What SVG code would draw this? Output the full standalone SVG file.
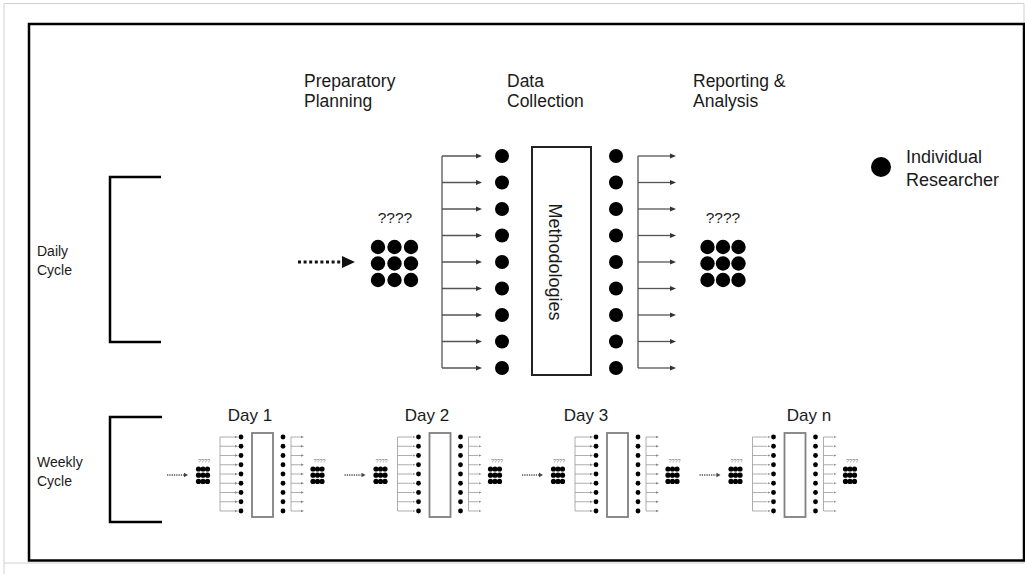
<svg xmlns="http://www.w3.org/2000/svg" xmlns:xlink="http://www.w3.org/1999/xlink" width="1025" height="574" viewBox="0 0 1025 574">
<style>
  .lbl { font-family: "Liberation Sans", Arial, sans-serif; fill: #1a1a1a; }
  .head { font-size: 17.5px; }
  .side { font-size: 14px; }
  .q { font-family: "Liberation Sans", Arial, sans-serif; fill: #222; font-size: 15.5px; text-anchor: middle; }
  .qs { font-family: "Liberation Sans", Arial, sans-serif; fill: #777; font-size: 5.5px; text-anchor: middle; }
  .day { font-family: "Liberation Sans", Arial, sans-serif; fill: #1a1a1a; font-size: 17px; text-anchor: middle; }
  .bracket { fill: none; stroke: #000; stroke-width: 2.5; }
  .arr { stroke: #555; stroke-width: 1.3; fill: none; }
  .arrs { stroke: #999; stroke-width: 0.8; fill: none; }
  .dot { fill: #000; }
</style>
<defs>
  <marker id="ah" markerUnits="userSpaceOnUse" markerWidth="6" markerHeight="6" refX="0" refY="3" orient="auto">
    <path d="M0,0.5 L6,3 L0,5.5 z" fill="#333"/>
  </marker>
  <marker id="ahs" markerUnits="userSpaceOnUse" markerWidth="3" markerHeight="3" refX="0" refY="1.5" orient="auto">
    <path d="M0,0.2 L3,1.5 L0,2.8 z" fill="#888"/>
  </marker>
  <g id="mini">
    <line x1="-85" y1="475" x2="-68" y2="475" stroke="#555" stroke-width="1.3" stroke-dasharray="1.3,1"/>
    <polygon points="-68,472.8 -64,475 -68,477.2" fill="#444"/>
    <text class="qs" x="-48" y="463">????</text>
    <g class="dot">
      <circle cx="-53.5" cy="469" r="2.6"/><circle cx="-49" cy="469" r="2.6"/><circle cx="-44.5" cy="469" r="2.6"/>
      <circle cx="-53.5" cy="475.2" r="2.6"/><circle cx="-49" cy="475.2" r="2.6"/><circle cx="-44.5" cy="475.2" r="2.6"/>
      <circle cx="-53.5" cy="481.4" r="2.6"/><circle cx="-49" cy="481.4" r="2.6"/><circle cx="-44.5" cy="481.4" r="2.6"/>
    </g>
    <path class="arrs" d="M-32,437 V511"/>
    <g class="arrs" marker-end="url(#ahs)">
      <line x1="-32" y1="437" x2="-17" y2="437"/><line x1="-32" y1="446.25" x2="-17" y2="446.25"/>
      <line x1="-32" y1="455.5" x2="-17" y2="455.5"/><line x1="-32" y1="464.75" x2="-17" y2="464.75"/>
      <line x1="-32" y1="474" x2="-17" y2="474"/><line x1="-32" y1="483.25" x2="-17" y2="483.25"/>
      <line x1="-32" y1="492.5" x2="-17" y2="492.5"/><line x1="-32" y1="501.75" x2="-17" y2="501.75"/>
      <line x1="-32" y1="511" x2="-17" y2="511"/>
    </g>
    <g class="dot">
      <circle cx="-11" cy="437" r="2.4"/><circle cx="-11" cy="446.25" r="2.4"/><circle cx="-11" cy="455.5" r="2.4"/>
      <circle cx="-11" cy="464.75" r="2.4"/><circle cx="-11" cy="474" r="2.4"/><circle cx="-11" cy="483.25" r="2.4"/>
      <circle cx="-11" cy="492.5" r="2.4"/><circle cx="-11" cy="501.75" r="2.4"/><circle cx="-11" cy="511" r="2.4"/>
    </g>
    <rect x="0" y="433" width="21" height="84" fill="#fff" stroke="#808080" stroke-width="1.8"/>
    <g class="dot">
      <circle cx="31" cy="437" r="2.4"/><circle cx="31" cy="446.25" r="2.4"/><circle cx="31" cy="455.5" r="2.4"/>
      <circle cx="31" cy="464.75" r="2.4"/><circle cx="31" cy="474" r="2.4"/><circle cx="31" cy="483.25" r="2.4"/>
      <circle cx="31" cy="492.5" r="2.4"/><circle cx="31" cy="501.75" r="2.4"/><circle cx="31" cy="511" r="2.4"/>
    </g>
    <path class="arrs" d="M39,437 V511"/>
    <g class="arrs" marker-end="url(#ahs)">
      <line x1="39" y1="437" x2="49" y2="437"/><line x1="39" y1="446.25" x2="49" y2="446.25"/>
      <line x1="39" y1="455.5" x2="49" y2="455.5"/><line x1="39" y1="464.75" x2="49" y2="464.75"/>
      <line x1="39" y1="474" x2="49" y2="474"/><line x1="39" y1="483.25" x2="49" y2="483.25"/>
      <line x1="39" y1="492.5" x2="49" y2="492.5"/><line x1="39" y1="501.75" x2="49" y2="501.75"/>
      <line x1="39" y1="511" x2="49" y2="511"/>
    </g>
    <text class="qs" x="67.5" y="463">????</text>
    <g class="dot">
      <circle cx="61" cy="469" r="2.6"/><circle cx="65.5" cy="469" r="2.6"/><circle cx="70" cy="469" r="2.6"/>
      <circle cx="61" cy="475.2" r="2.6"/><circle cx="65.5" cy="475.2" r="2.6"/><circle cx="70" cy="475.2" r="2.6"/>
      <circle cx="61" cy="481.4" r="2.6"/><circle cx="65.5" cy="481.4" r="2.6"/><circle cx="70" cy="481.4" r="2.6"/>
    </g>
  </g>
</defs>

<rect width="1025" height="574" fill="#fff"/>
<!-- faint outer frame -->
<path d="M4,574 V3.5 H1024 V563 H4" fill="none" stroke="#d0d0d0" stroke-width="1"/>
<!-- main border -->
<rect x="29" y="24" width="995" height="536.5" fill="#fff" stroke="#000" stroke-width="2.5"/>

<g id="headings">
  <text class="lbl head" x="304" y="87">Preparatory</text>
  <text class="lbl head" x="304" y="106.5">Planning</text>
  <text class="lbl head" x="507" y="87">Data</text>
  <text class="lbl head" x="507" y="106.5">Collection</text>
  <text class="lbl head" x="693" y="87">Reporting &amp;</text>
  <text class="lbl head" x="693" y="106.5">Analysis</text>
</g>

<g id="legend">
  <circle class="dot" cx="881" cy="167" r="10"/>
  <text class="lbl" x="906" y="163" font-size="18">Individual</text>
  <text class="lbl" x="906" y="186" font-size="18">Researcher</text>
</g>

<g id="daily-cycle">
  <path class="bracket" d="M161,177 H110 V342 H161"/>
  <text class="lbl side" x="37" y="256">Daily</text>
  <text class="lbl side" x="37" y="275">Cycle</text>
</g>

<g id="weekly-cycle">
  <path class="bracket" d="M162,417 H110 V522 H162"/>
  <text class="lbl side" x="37" y="467">Weekly</text>
  <text class="lbl side" x="37" y="486">Cycle</text>
</g>

<g id="planning-group">
  <text class="q" x="395" y="223">????</text>
  <g class="dot">
    <circle cx="378" cy="247" r="7.2"/><circle cx="394.5" cy="247" r="7.2"/><circle cx="411" cy="247" r="7.2"/>
    <circle cx="378" cy="263.5" r="7.2"/><circle cx="394.5" cy="263.5" r="7.2"/><circle cx="411" cy="263.5" r="7.2"/>
    <circle cx="378" cy="280" r="7.2"/><circle cx="394.5" cy="280" r="7.2"/><circle cx="411" cy="280" r="7.2"/>
  </g>
</g>

<g id="collectors-left">
  <circle class="dot" cx="502" cy="156" r="7"/><circle class="dot" cx="502" cy="182.5" r="7"/>
  <circle class="dot" cx="502" cy="209" r="7"/><circle class="dot" cx="502" cy="235.5" r="7"/>
  <circle class="dot" cx="502" cy="262" r="7"/><circle class="dot" cx="502" cy="288.5" r="7"/>
  <circle class="dot" cx="502" cy="315" r="7"/><circle class="dot" cx="502" cy="341.5" r="7"/>
  <circle class="dot" cx="502" cy="368" r="7"/>
</g>

<g id="methodologies">
  <rect x="532" y="147" width="59" height="228" fill="#fff" stroke="#222" stroke-width="2"/>
  <text class="lbl" transform="translate(555,262) rotate(90)" x="0" y="6" font-size="18" text-anchor="middle">Methodologies</text>
</g>

<g id="collectors-right">
  <circle class="dot" cx="616" cy="156" r="7"/><circle class="dot" cx="616" cy="182.5" r="7"/>
  <circle class="dot" cx="616" cy="209" r="7"/><circle class="dot" cx="616" cy="235.5" r="7"/>
  <circle class="dot" cx="616" cy="262" r="7"/><circle class="dot" cx="616" cy="288.5" r="7"/>
  <circle class="dot" cx="616" cy="315" r="7"/><circle class="dot" cx="616" cy="341.5" r="7"/>
  <circle class="dot" cx="616" cy="368" r="7"/>
</g>

<g id="reporting-group">
  <text class="q" x="723" y="223">????</text>
  <g class="dot">
    <circle cx="707.5" cy="247" r="7.2"/><circle cx="723" cy="247" r="7.2"/><circle cx="738.5" cy="247" r="7.2"/>
    <circle cx="707.5" cy="263.5" r="7.2"/><circle cx="723" cy="263.5" r="7.2"/><circle cx="738.5" cy="263.5" r="7.2"/>
    <circle cx="707.5" cy="280" r="7.2"/><circle cx="723" cy="280" r="7.2"/><circle cx="738.5" cy="280" r="7.2"/>
  </g>
</g>

<g id="connectors">
  <line x1="298" y1="262" x2="342" y2="262" stroke="#111" stroke-width="3.2" stroke-dasharray="3,2.6"/>
  <polygon points="342,256 355,262 342,268" fill="#111"/>
  <path class="arr" d="M442,156 V368"/>
  <g class="arr" marker-end="url(#ah)">
    <line x1="442" y1="156" x2="476" y2="156"/><line x1="442" y1="182.5" x2="476" y2="182.5"/>
    <line x1="442" y1="209" x2="476" y2="209"/><line x1="442" y1="235.5" x2="476" y2="235.5"/>
    <line x1="442" y1="262" x2="476" y2="262"/><line x1="442" y1="288.5" x2="476" y2="288.5"/>
    <line x1="442" y1="315" x2="476" y2="315"/><line x1="442" y1="341.5" x2="476" y2="341.5"/>
    <line x1="442" y1="368" x2="476" y2="368"/>
  </g>
  <path class="arr" d="M638,156 V368"/>
  <g class="arr" marker-end="url(#ah)">
    <line x1="638" y1="156" x2="670" y2="156"/><line x1="638" y1="182.5" x2="670" y2="182.5"/>
    <line x1="638" y1="209" x2="670" y2="209"/><line x1="638" y1="235.5" x2="670" y2="235.5"/>
    <line x1="638" y1="262" x2="670" y2="262"/><line x1="638" y1="288.5" x2="670" y2="288.5"/>
    <line x1="638" y1="315" x2="670" y2="315"/><line x1="638" y1="341.5" x2="670" y2="341.5"/>
    <line x1="638" y1="368" x2="670" y2="368"/>
  </g>
</g>

<g id="day-1">
  <text class="day" x="250" y="421">Day 1</text>
  <use href="#mini" xlink:href="#mini" transform="translate(252,0)"/>
</g>
<g id="day-2">
  <text class="day" x="427" y="421">Day 2</text>
  <use href="#mini" xlink:href="#mini" transform="translate(429.5,0)"/>
</g>
<g id="day-3">
  <text class="day" x="586" y="421">Day 3</text>
  <use href="#mini" xlink:href="#mini" transform="translate(607,0)"/>
</g>
<g id="day-n">
  <text class="day" x="809" y="421">Day n</text>
  <use href="#mini" xlink:href="#mini" transform="translate(784.5,0)"/>
</g>
</svg>
